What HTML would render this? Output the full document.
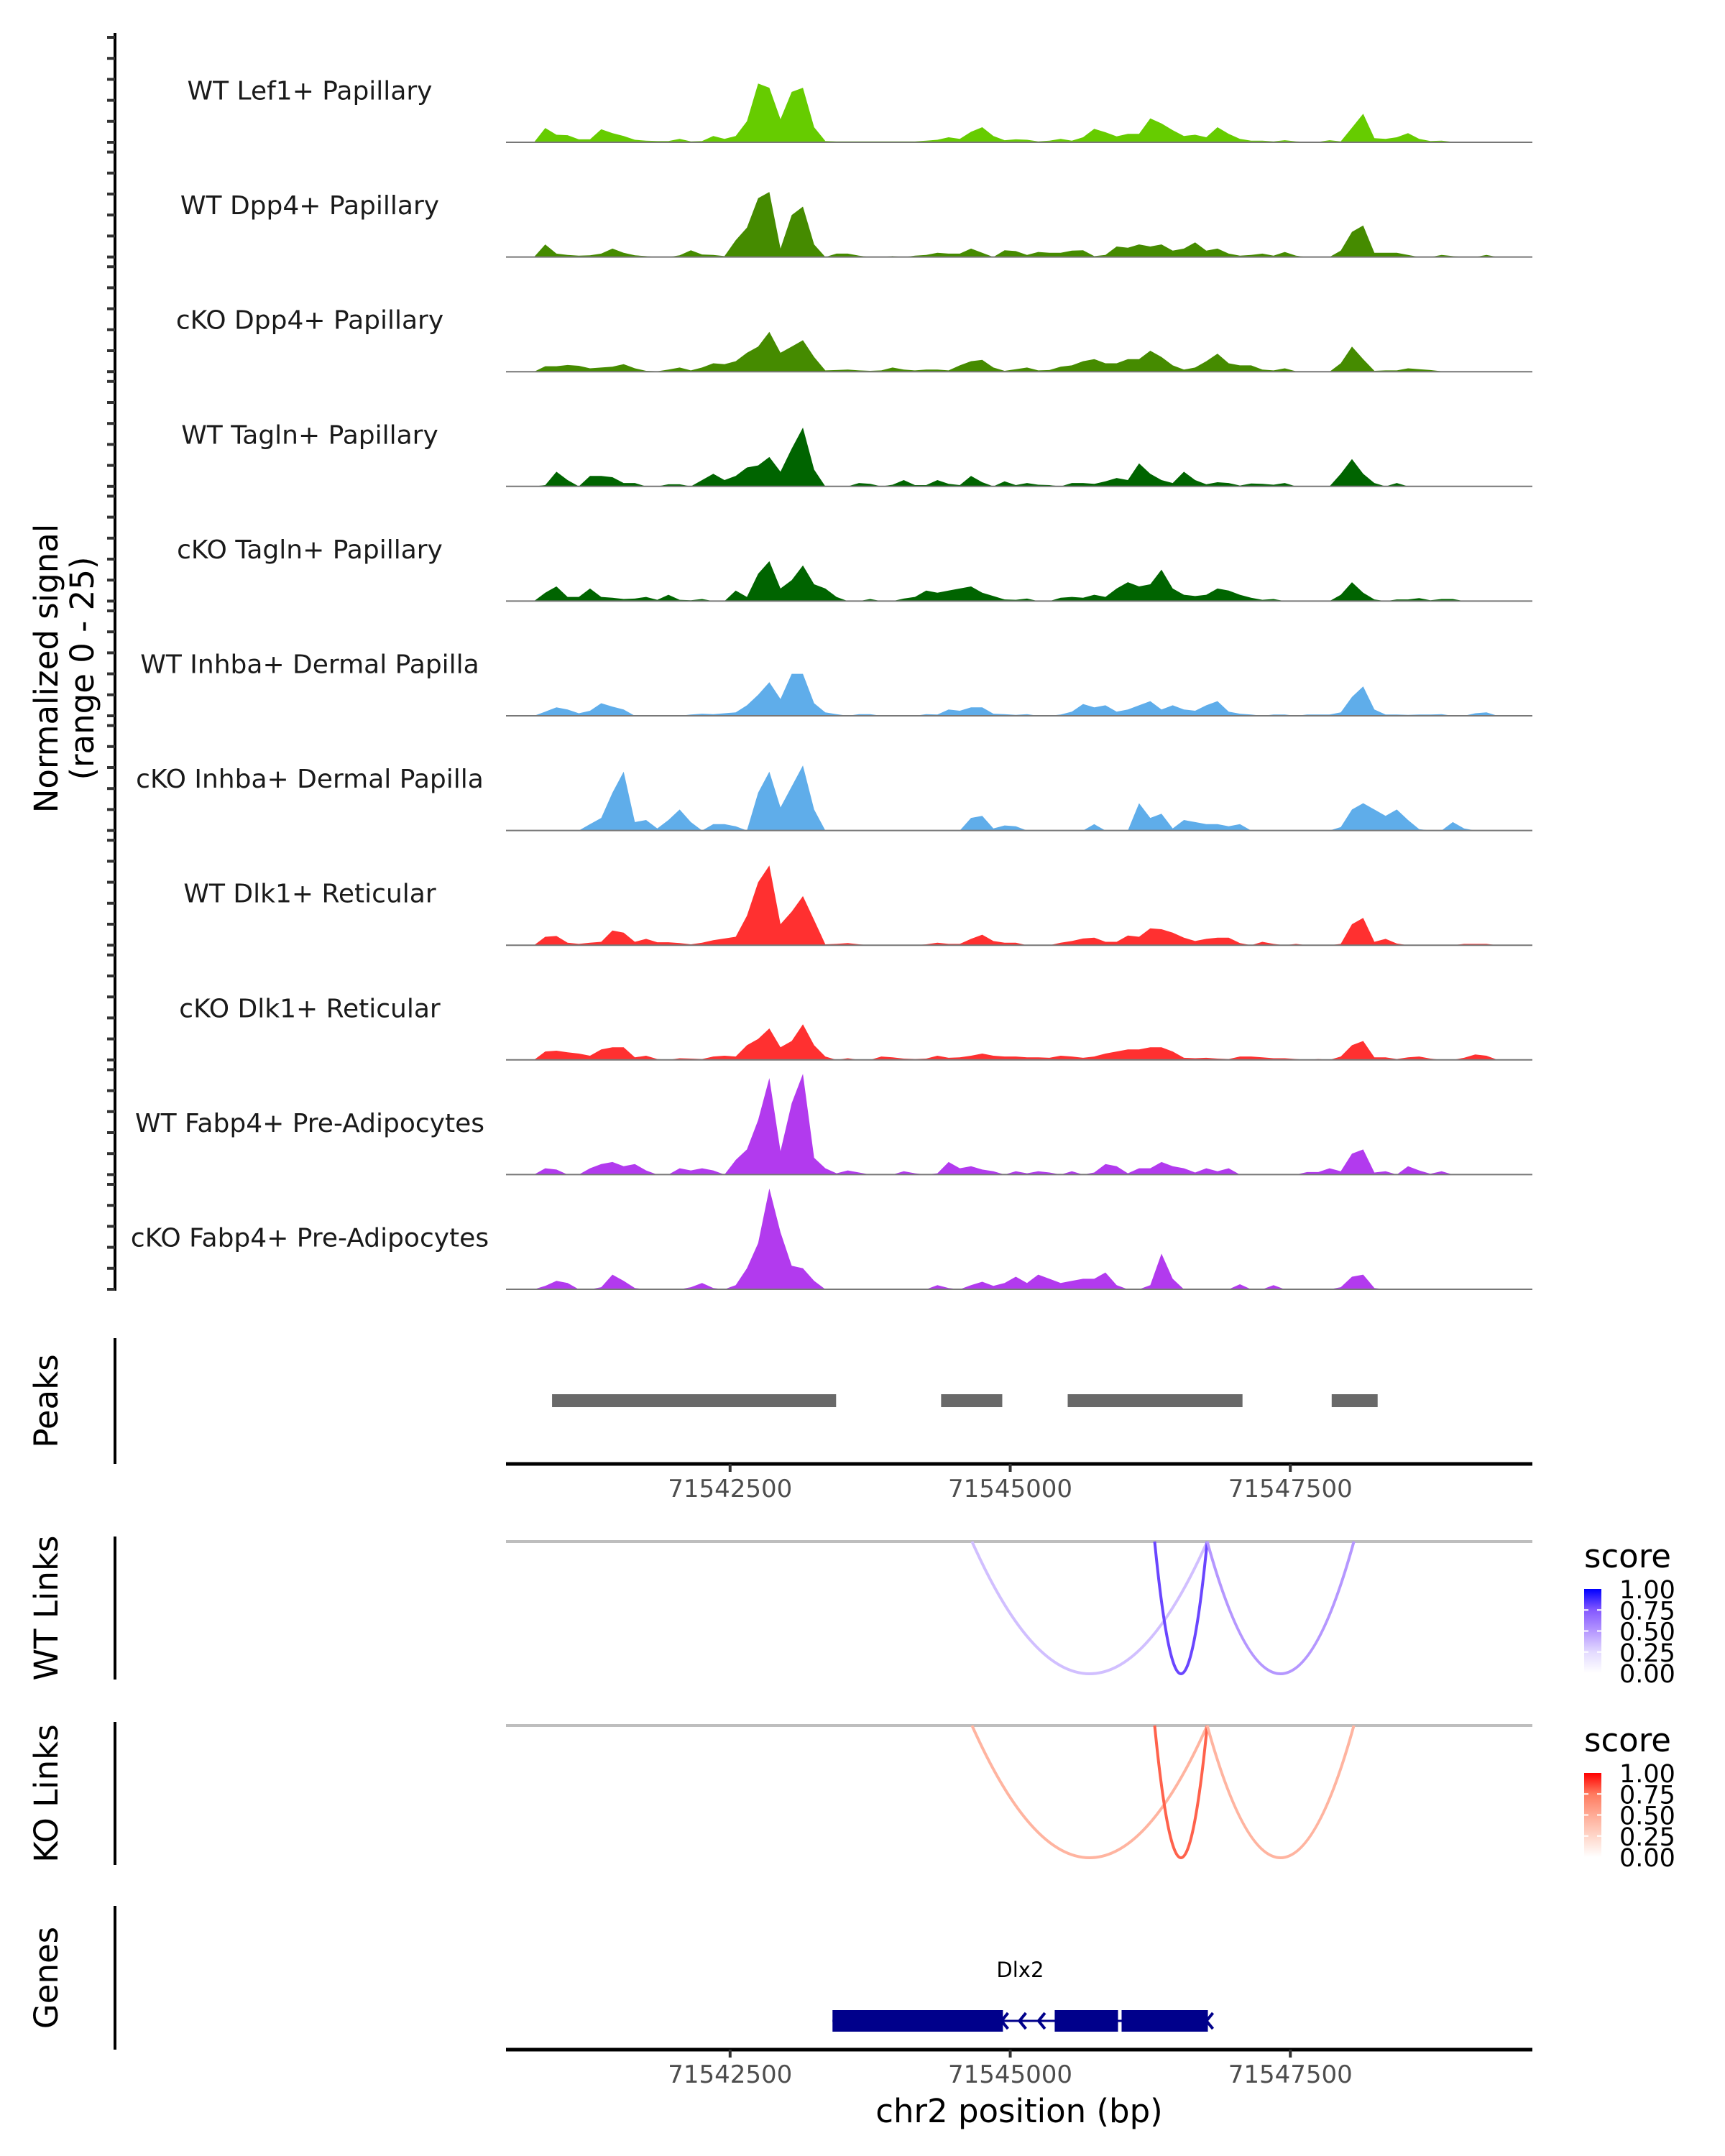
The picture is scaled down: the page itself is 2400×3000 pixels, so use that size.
<!DOCTYPE html>
<html><head><meta charset="utf-8"><style>
html,body{margin:0;padding:0;background:#fff;}
svg{display:block;font-family:"DejaVu Sans","Liberation Sans",sans-serif;}
</style></head><body>
<svg id="chart" xmlns="http://www.w3.org/2000/svg" width="2400" height="3000" viewBox="0 0 2400 3000">
<defs>
<linearGradient id="gradBlue" x1="0" y1="1" x2="0" y2="0">
<stop offset="0" stop-color="#ffffff"/><stop offset="0.25" stop-color="#e3daff"/><stop offset="0.5" stop-color="#b597ff"/><stop offset="0.75" stop-color="#8458ff"/><stop offset="1" stop-color="#0000ff"/>
</linearGradient>
<linearGradient id="gradRed" x1="0" y1="1" x2="0" y2="0">
<stop offset="0" stop-color="#ffffff"/><stop offset="0.25" stop-color="#ffd6c9"/><stop offset="0.5" stop-color="#ffab96"/><stop offset="0.75" stop-color="#ff7a5f"/><stop offset="1" stop-color="#ff0000"/>
</linearGradient>
</defs>
<g id="tracks"></g>
<g id="lower"></g>
</svg>
<script>
// ---- data ----
const regionStart = 71540500;
const regionEnd = 71549660;
const binSize = 100;
const xTicks = [71542500, 71545000, 71547500];
const trackNames = ["WT Lef1+ Papillary","WT Dpp4+ Papillary","cKO Dpp4+ Papillary","WT Tagln+ Papillary","cKO Tagln+ Papillary","WT Inhba+ Dermal Papilla","cKO Inhba+ Dermal Papilla","WT Dlk1+ Reticular","cKO Dlk1+ Reticular","WT Fabp4+ Pre-Adipocytes","cKO Fabp4+ Pre-Adipocytes"];
const trackColors = ["#66cc00","#458b00","#458b00","#006400","#006400","#5fadea","#5fadea","#ff3030","#ff3030","#b23aee","#b23aee"];
const sigLef1WT = [0,0,0,3.4,1.8,1.7,0.7,0.7,3.1,2.2, 1.5,0.6,0.4,0.3,0.3,0.8,0.2,0.3,1.5,0.8, 1.5,5,14,13,5.5,12,13,3.6,0.3,0.2, 0.2,0.2,0.2,0.2,0.2,0.2,0.2,0.4,0.6,1.2, 0.8,2.5,3.6,1.5,0.5,0.7,0.6,0.2,0.4,0.8, 0.4,1.2,3.2,2.4,1.4,2.0,2.0,5.7,4.5,2.9, 1.5,1.8,1.2,3.6,2.0,0.8,0.4,0.4,0.2,0.5, 0.2,0.1,0.1,0.5,0.2,3.5,6.8,1.0,0.8,1.2, 2.2,0.8,0.3,0.4,0.1,0.1,0.1,0.1,0,0, 0,0];
const sigDpp4WT = [0,0,0,3.0,0.8,0.5,0.3,0.4,0.8,2.0, 1.0,0.4,0.2,0,0,0.4,1.6,0.6,0.5,0.2, 4,7,14,15.5,2,10,12,3,0,0.8, 0.8,0.3,0,0,0.2,0,0.3,0.5,1.0,0.8, 0.8,2.0,1.0,0,1.6,1.4,0.5,1.2,1.0,1.0, 1.5,1.6,0.2,0.5,2.5,2.2,3.0,2.5,3.0,1.5, 2.0,3.5,1.5,2.0,0.8,0.3,0.5,0.8,0.3,1.2, 0.3,0,0,0,1.5,6,7.5,1.0,1.0,1.0, 0.5,0,0,0.5,0.2,0,0,0.5,0,0, 0,0];
const sigDpp4KO = [0,0,0,1.3,1.3,1.6,1.4,0.8,1.0,1.2, 1.8,0.8,0.2,0.1,0.5,1.0,0.3,1.0,2.0,1.8, 2.5,4.5,6,9.5,4.5,6,7.5,3.5,0.3,0.4, 0.5,0.3,0.2,0.3,1.0,0.5,0.3,0.5,0.5,0.3, 1.5,2.5,2.8,1.0,0.2,0.6,1.0,0.3,0.4,1.2, 1.5,2.5,3.0,2.0,2.0,3.0,3.0,5.0,3.5,1.5, 0.5,1.0,2.5,4.3,2.0,1.5,1.5,0.5,0.3,0.8, 0.1,0.1,0.1,0,2.0,6.0,3.0,0.2,0.3,0.3, 0.8,0.6,0.4,0.1,0.1,0.1,0.1,0,0,0, 0,0];
const sigTaglnWT = [0,0,0,0.3,3.5,1.5,0,2.5,2.5,2.2, 0.8,0.8,0,0,0.5,0.5,0,1.5,3.0,1.5, 2.5,4.5,5,7,3.5,9,14,4,0,0, 0,0.8,0.6,0,0.4,1.5,0.3,0.3,1.5,0.6, 0.3,2.5,1.0,0,1.2,0.3,0.8,0.4,0.3,0, 0.8,0.8,0.6,1.2,2.0,1.5,5.5,3.0,1.5,0.8, 3.5,1.5,0.5,1.0,0.8,0.2,0.7,0.6,0.4,0.8, 0,0,0,0,3.0,6.5,3.0,0.8,0,0.8, 0,0,0,0,0,0,0,0,0,0, 0,0];
const sigTaglnKO = [0,0,0,2.0,3.5,1.0,1.0,3.0,1.0,0.8, 0.5,0.6,1.0,0.3,1.5,0.3,0.2,0.5,0,0, 2.5,1.0,6.5,9.5,3,5,8.5,4,3,1.0, 0,0,0.5,0,0,0.6,1.0,2.5,2.0,2.5, 3.0,3.5,2.0,1.2,0.4,0.3,0.6,0,0,0.8, 1.0,0.8,1.5,1.0,3.0,4.5,3.5,4.0,7.5,3.0, 1.5,1.2,1.5,3.0,2.5,1.5,0.8,0.3,0.5,0, 0,0,0,0,1.5,4.5,2.0,0.4,0,0.4, 0.4,0.7,0.2,0.5,0.5,0,0,0,0,0, 0,0];
const sigInhbaWT = [0,0,0,1.0,2.0,1.5,0.6,1.2,3.0,2.2, 1.5,0,0,0,0,0,0.3,0.5,0.4,0.6, 0.8,2.5,5.0,8.0,4.0,10,10,3.0,0.8,0.4, 0,0.4,0.4,0,0,0,0,0.4,0.3,1.5, 1.2,2.0,2.0,0.5,0.4,0.2,0.4,0,0,0.3, 1.0,2.8,2.0,2.5,1.0,1.5,2.5,3.5,1.5,2.5, 1.5,1.2,2.5,3.5,1.0,0.5,0.3,0,0.3,0.3, 0,0.3,0.3,0.3,0.8,4.5,7.0,1.5,0.3,0.3, 0.2,0.3,0.3,0.4,0,0,0.6,0.8,0,0, 0,0];
const sigInhbaKO = [0,0,0,0,0,0,0,1.5,3.0,9, 14,2.0,2.5,0.5,2.5,5.0,2.0,0,1.5,1.5, 1.0,0,9,14,5.5,10.5,15.5,5,0,0, 0,0,0,0,0,0,0,0,0,0, 0,3.0,3.5,0.5,1.2,1.0,0,0,0,0, 0,0,1.5,0,0,0,6.5,3.0,4.0,0.5, 2.5,2.0,1.5,1.5,1.0,1.5,0,0,0,0, 0,0,0,0,0.8,5.0,6.5,5.0,3.5,5.0, 2.5,0.3,0,0,2.0,0.5,0,0,0,0, 0,0];
const sigDlk1WT = [0,0,0,2.0,2.2,0.6,0.3,0.6,0.8,3.5, 3.0,0.8,1.5,0.7,0.7,0.5,0.2,0.6,1.2,1.6, 2.0,7,15,19,5,8,11.7,6,0.2,0.3, 0.5,0.2,0,0,0,0,0,0.2,0.6,0.3, 0.3,1.5,2.5,1.0,0.6,0.6,0,0,0,0.6, 1.0,1.6,1.8,0.8,0.8,2.3,2.0,4.0,3.8,3.0, 1.8,1.0,1.5,1.8,1.8,0.5,0,0.8,0.3,0, 0.3,0,0,0,0.3,5.0,6.5,0.8,1.5,0.4, 0,0,0,0,0,0.3,0.3,0.3,0,0, 0,0];
const sigDlk1KO = [0,0,0,2.0,2.2,1.8,1.5,1.0,2.5,3.0, 3.0,0.6,1.0,0.2,0,0.4,0.3,0.2,0.8,1.0, 0.8,3.5,5,7.5,3,4.5,8.5,3.5,0.8,0, 0.4,0,0,0.8,0.6,0.3,0.2,0.3,1.0,0.5, 0.6,1.0,1.5,1.0,0.8,0.8,0.6,0.6,0.5,1.0, 0.8,0.5,0.8,1.5,2.0,2.5,2.5,3.0,3.0,2.0, 0.5,0.4,0.5,0.3,0.2,0.8,0.8,0.6,0.4,0.4, 0.2,0,0.2,0,0.8,3.5,4.5,0.6,0.6,0.2, 0.6,0.8,0.3,0,0,0.5,1.3,1.0,0,0, 0,0];
const sigFabp4WT = [0,0,0,1.5,1.2,0,0,1.5,2.5,3.0, 2.0,2.5,1.0,0,0,1.5,1.0,1.5,1.0,0, 3.5,6,13,23,5.6,17,24,4,1.5,0.3, 1.0,0.5,0,0,0,0.8,0.3,0,0.3,3.0, 1.5,2.0,1.2,0.8,0,0.8,0.3,0.8,0.5,0, 0.8,0,0.5,2.5,2.0,0.3,1.5,1.5,3.0,2.0, 1.5,0.5,1.5,0.8,1.5,0,0,0,0,0, 0,0.6,0.6,1.5,0.8,5.0,6.0,0.5,0.8,0, 2.0,1.0,0.2,0.8,0,0,0,0,0,0, 0,0];
const sigFabp4KO = [0,0,0,0.8,2.0,1.5,0,0,0.5,3.5, 2.0,0.3,0,0,0,0,0.5,1.5,0.3,0, 1.0,5,11,24,13.6,5.6,5,2,0,0, 0,0,0,0,0,0,0,0,1.0,0.3, 0,1.0,1.8,0.8,1.5,3.0,1.5,3.5,2.5,1.5, 2.0,2.5,2.5,4.0,1.0,0,0,1.0,8.5,2.5, 0,0,0,0,0,1.2,0,0,1.0,0, 0,0,0,0,0.5,3.0,3.5,0.3,0,0, 0,0,0,0,0,0,0,0,0,0, 0,0];
const trackSignals = [sigLef1WT,sigDpp4WT,sigDpp4KO,sigTaglnWT,sigTaglnKO,sigInhbaWT,sigInhbaKO,sigDlk1WT,sigDlk1KO,sigFabp4WT,sigFabp4KO];
const yMax = 25;
const peakStarts = [71540911, 71544383, 71545513, 71547869];
const peakEnds   = [71543446, 71544929, 71547073, 71548279];
const wtLinkStarts = [71544659, 71546289, 71546758];
const wtLinkEnds   = [71546758, 71546758, 71548067];
const wtLinkScores = [0.35, 0.8, 0.5];
const koLinkStarts = [71544659, 71546289, 71546758];
const koLinkEnds   = [71546758, 71546758, 71548067];
const koLinkScores = [0.45, 0.8, 0.45];
const legendTicks = [0, 0.25, 0.5, 0.75, 1];
const geneName = "Dlx2";
const exonStarts = [71543414, 71545397, 71545994];
const exonEnds   = [71544935, 71545962, 71546764];

// ---- layout ----
const NS = "http://www.w3.org/2000/svg";
const plotL = 704, plotR = 2132;
function x(bp){ return plotL + (bp - regionStart) * (plotR - plotL) / (regionEnd - regionStart); }
const trackBase0 = 198, trackStep = 159.6, trackH = 146;
function mk(tag, attrs, parent){ const e = document.createElementNS(NS, tag); for (const k in attrs) e.setAttribute(k, attrs[k]); parent.appendChild(e); return e; }
const tracksG = document.getElementById('tracks');
const lowerG = document.getElementById('lower');
const blueStops = [[255,255,255],[227,218,255],[181,151,255],[132,88,255],[0,0,255]];
const redStops = [[255,255,255],[255,214,201],[255,171,150],[255,122,95],[255,0,0]];
function scoreColor(s, stops){ const p = Math.max(0,Math.min(1,s))*4; const i = Math.min(3, Math.floor(p)); const f = p - i; const c = stops[i].map((v,j)=>Math.round(v + (stops[i+1][j]-v)*f)); return 'rgb('+c.join(',')+')'; }

// left signal axis
const axisBottom = trackBase0 + trackStep*10;
const sigAxis = mk('line', {x1:160, y1:46, x2:160, y2:axisBottom+2, stroke:'#000', 'stroke-width':4}, tracksG);


const ytitle = mk('text', {transform:'translate(80,930) rotate(-90)', 'text-anchor':'middle', 'font-size':45, fill:'#000'}, tracksG);


const t1 = mk('tspan', {x:0, dy:0}, ytitle); t1.textContent = 'Normalized signal';
const t2 = mk('tspan', {x:0, dy:50}, ytitle); t2.textContent = '(range 0 - 25)';

trackSignals.forEach((sig, i) => {
  const base = trackBase0 + trackStep*i;
  const g = mk('g', {}, tracksG);
  
  
  for (let j = 0; j <= 5; j++) {
    const ty = base - trackH*j/5;
    const tk = mk('line', {x1:149, y1:ty, x2:160, y2:ty, stroke:'#333', 'stroke-width':4}, g);
    
    
  }
  const lab = mk('text', {x:431, y:base-71, 'text-anchor':'middle', 'dominant-baseline':'central', 'font-size':36, fill:'#1a1a1a'}, g);
  
  
  lab.textContent = trackNames[i];
  let d = '';
  sig.forEach((v, k) => {
    const bp = regionStart + binSize*k + binSize/2;
    if (bp > regionEnd) return;
    const px = x(bp);
    const py = base - Math.min(v, yMax)/yMax*trackH;
    d += (d ? 'L' : 'M' + x(regionStart).toFixed(1) + ',' + base + 'L') + px.toFixed(1) + ',' + py.toFixed(1);
  });
  d += 'L' + x(regionEnd).toFixed(1) + ',' + base + 'Z';
  const area = mk('path', {d:d, fill:trackColors[i], stroke:'none'}, g);
  
  
  const bl = mk('line', {x1:plotL, y1:base, x2:plotR, y2:base, stroke:'#777', 'stroke-width':2}, g);
  
  
});

// panel helpers
function panelAxis(y1, y2, title, name){
  const a = mk('line', {x1:160, y1:y1, x2:160, y2:y2, stroke:'#000', 'stroke-width':4}, lowerG);
  
  
  const t = mk('text', {transform:'translate(80,' + ((y1+y2)/2) + ') rotate(-90)', 'text-anchor':'middle', 'font-size':45, fill:'#000'}, lowerG);
  
  
  t.textContent = title;
}
function xAxis(y, name){
  const a = mk('line', {x1:plotL, y1:y, x2:plotR, y2:y, stroke:'#000', 'stroke-width':5}, lowerG);
  
  
  xTicks.forEach(tv => {
    const tk = mk('line', {x1:x(tv), y1:y, x2:x(tv), y2:y+11, stroke:'#333', 'stroke-width':4}, lowerG);
    
    
    const tl = mk('text', {x:x(tv), y:y+46, 'text-anchor':'middle', 'font-size':34, fill:'#4d4d4d'}, lowerG);
    
    
    tl.textContent = String(tv);
  });
}

// Peaks
panelAxis(1862, 2037, 'Peaks', 'peaks');
peakStarts.forEach((s, i) => {
  const r = mk('rect', {x:x(s), y:1940, width:x(peakEnds[i])-x(s), height:18, fill:'#696969'}, lowerG);
  
  
});
xAxis(2037, 'peaks-x-axis');

// Links
function linkPanel(y0, depth, starts, ends, scores, stops, grad, name, axTop, axBot){
  panelAxis(axTop, axBot, name === 'wt' ? 'WT Links' : 'KO Links', name + '-links');
  const gl = mk('line', {x1:plotL, y1:y0, x2:plotR, y2:y0, stroke:'#bebebe', 'stroke-width':4}, lowerG);
  
  
  starts.forEach((s, i) => {
    const x1 = x(s), x2 = x(ends[i]);
    const p = mk('path', {d:'M'+x1+','+y0+' Q'+((x1+x2)/2)+','+(y0+2*depth)+' '+x2+','+y0, fill:'none', stroke:scoreColor(scores[i], stops), 'stroke-width':4}, lowerG);
    
    
  });
  const lt = y0 + 28;
  const st = mk('text', {x:2204, y:lt + 8, 'font-size':45, fill:'#000'}, lowerG);
  
  
  st.textContent = 'score';
  const barTop = y0 + 66, barH = 117;
  const bar = mk('rect', {x:2204, y:barTop, width:24, height:barH, fill:'url(#' + grad + ')'}, lowerG);
  
  
  legendTicks.forEach(v => {
    const ty = barTop + barH*(1 - v);
    if (v > 0 && v < 1) {
      const tk = mk('line', {x1:2204, y1:ty, x2:2210, y2:ty, stroke:'#fff', 'stroke-width':2}, lowerG);
      
      
      const tk2 = mk('line', {x1:2222, y1:ty, x2:2228, y2:ty, stroke:'#fff', 'stroke-width':2}, lowerG);
      
      
    }
    const tl = mk('text', {x:2253, y:ty + 13, 'font-size':35, fill:'#000'}, lowerG);
    
    
    tl.textContent = v.toFixed(2);
  });
}
linkPanel(2145, 184, wtLinkStarts, wtLinkEnds, wtLinkScores, blueStops, 'gradBlue', 'wt', 2138, 2337);
linkPanel(2401, 184, koLinkStarts, koLinkEnds, koLinkScores, redStops, 'gradRed', 'ko', 2396, 2595);

// Genes
panelAxis(2652, 2852, 'Genes', 'genes');
const gy = 2812;
const intron = mk('line', {x1:x(exonStarts[0]), y1:gy, x2:x(exonEnds[exonEnds.length-1]), y2:gy, stroke:'#00008b', 'stroke-width':3}, lowerG);


exonStarts.forEach((s, i) => {
  const r = mk('rect', {x:x(s), y:gy-15, width:x(exonEnds[i])-x(s), height:30, fill:'#00008b'}, lowerG);
  
  
});
const arrowPos = [exonEnds[0], exonEnds[0] + 160, exonEnds[0] + 330, exonEnds[2]];
arrowPos.forEach(bp => {
  const ax = x(bp) + 6;
  const a = mk('path', {d:'M'+(ax+1)+','+(gy-11)+' L'+(ax-8)+','+gy+' L'+(ax+1)+','+(gy+11), fill:'none', stroke:'#00008b', 'stroke-width':4}, lowerG);
  
  
});
const gl = mk('text', {x:x((exonStarts[0]+exonEnds[2])/2), y:2751, 'text-anchor':'middle', 'font-size':29, fill:'#000'}, lowerG);


gl.textContent = geneName;
xAxis(2852, 'genes-x-axis');
const xt = mk('text', {x:(plotL+plotR)/2, y:2953, 'text-anchor':'middle', 'font-size':45, fill:'#000'}, lowerG);


xt.textContent = 'chr2 position (bp)';
</script>
</body></html>
